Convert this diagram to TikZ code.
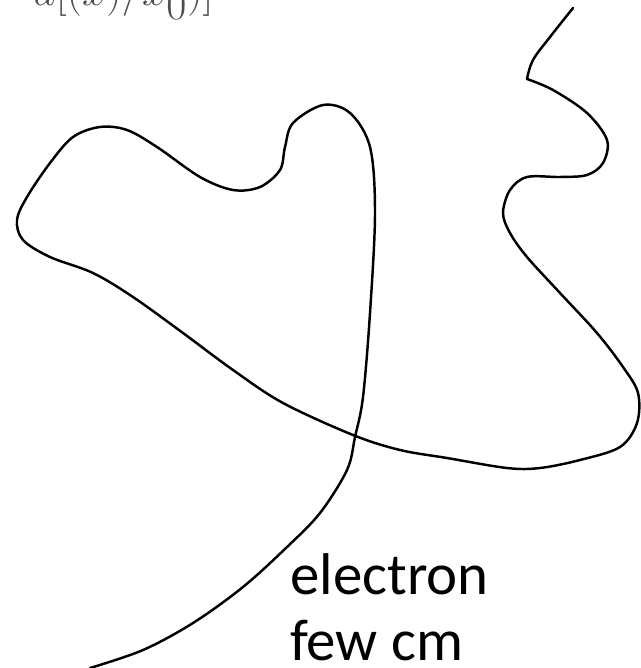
\documentclass[tikz,border=0pt]{standalone}
\usepackage{fontspec}
\newfontfamily\labelfont{Carlito}
\begin{document}
\begin{tikzpicture}[x=0.02cm,y=-0.02cm,
  track/.style={line width=1.4pt, black, line join=round, line cap=round},
  label/.style={font=\labelfont\fontsize{33.5}{40}\selectfont, anchor=base west, inner sep=0pt},
  formula/.style={font=\fontsize{36}{40}\selectfont, text=black!70, anchor=base east, inner sep=0pt}]
\useasboundingbox (0,0) rectangle (640,668);
\fill[white] (0,0) rectangle (640,668);
% cut-off formula at the top
\node[formula] (f) at (214,6) {$a[(x)/x_0)]$};
% track: first short stroke down to the kink
\coordinate (top) at (573,8);
\coordinate (kink) at (527,79);
\coordinate (bottom) at (90,668);
\draw[track] plot[smooth, tension=0.6] coordinates {(573,8) (550,37) (533,60) (527,79)};
\draw[track] plot[smooth, tension=0.55] coordinates {
 (527,79) (553,90) (587,113) (607,140) (603,163) (587,175) (560,177) (527,177)
 (510,190) (503,213) (510,233) (527,257) (560,293) (597,333) (623,367) (638,393)
 (637,423) (620,447) (580,460) (540,468) (507,468) (447,458) (400,450) (353,435)
 (283,403) (233,370) (183,333) (133,297) (93,273) (50,257) (23,240) (17,220)
 (27,197) (50,163) (73,137) (100,127) (127,130) (157,147) (200,177) (233,190)
 (260,187) (280,170) (285,147) (293,123) (323,105) (350,113) (370,147) (375,213)
 (370,313) (363,397) (355,437) (347,470) (320,513) (287,547) (243,587) (193,623)
 (143,650) (90,668)};
% labels
\node[label] (l1) at (290,594) {electron};
\node[label] (l2) at (290,660) {few cm};
\end{tikzpicture}
\end{document}
